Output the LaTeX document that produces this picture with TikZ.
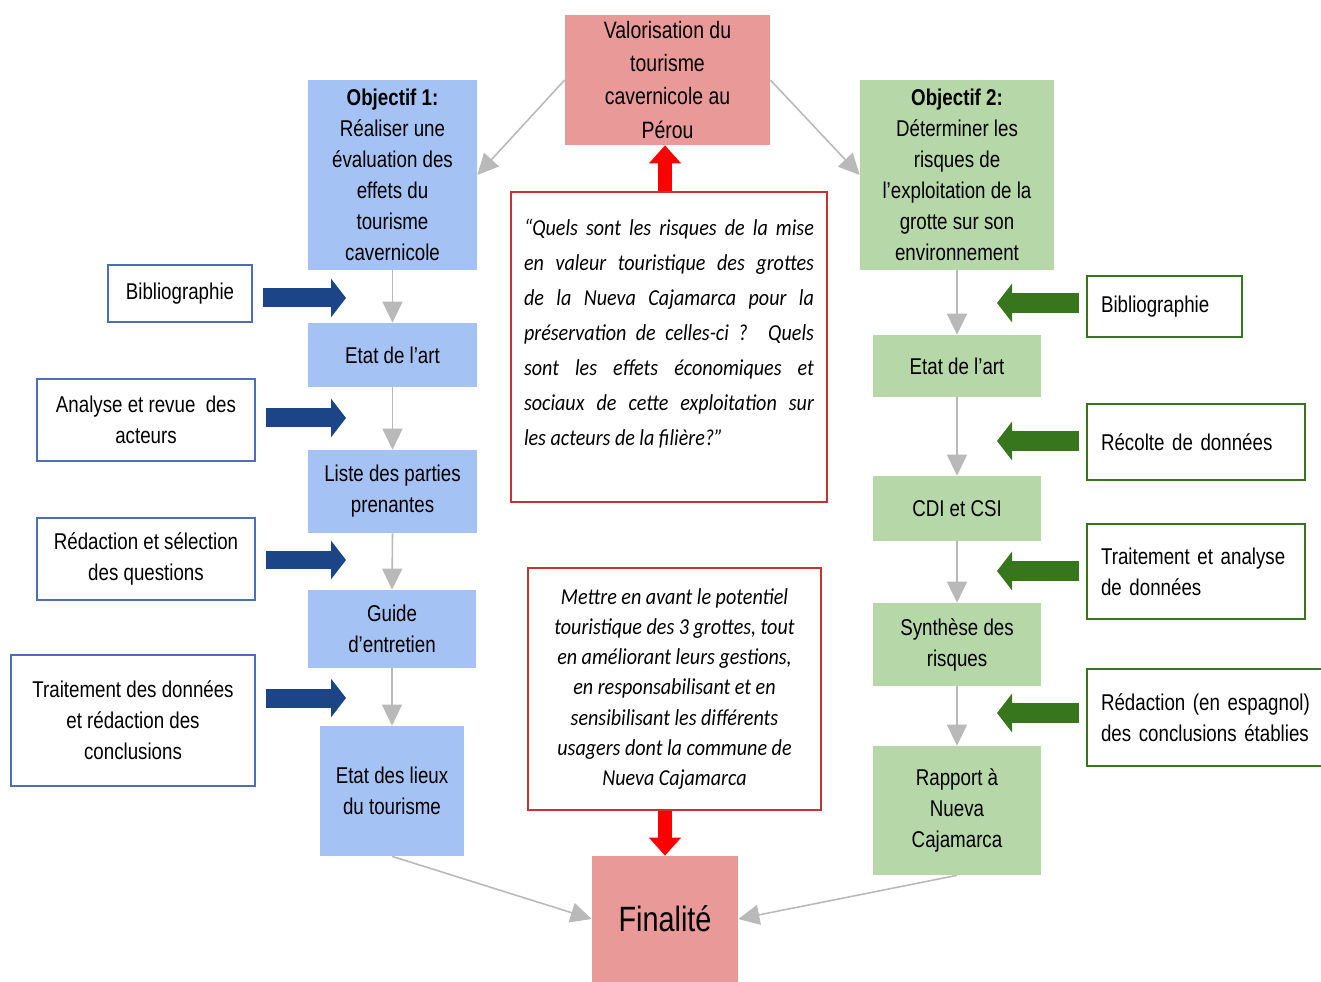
\documentclass[tikz,border=0pt]{standalone}
\usepackage{fontspec}
\setmainfont{Liberation Sans}[FakeStretch=0.82]
\newfontfamily\quotefont{Carlito}[FakeStretch=0.88]
\usepackage{tikz}
\usetikzlibrary{arrows.meta}
\usepackage{xcolor}
\definecolor{pinkbox}{RGB}{234,153,153}
\definecolor{bluebox}{RGB}{164,194,244}
\definecolor{greenbox}{RGB}{182,215,168}
\definecolor{darkblue}{RGB}{28,69,135}
\definecolor{darkgreen}{RGB}{56,118,29}
\definecolor{greyline}{RGB}{185,185,185}
\definecolor{blueedge}{RGB}{74,111,181}
\definecolor{greenedge}{RGB}{56,118,29}
\definecolor{rededge}{RGB}{200,50,50}

\begin{document}
\begin{tikzpicture}[x=0.02cm,y=-0.02cm]
\tikzstyle{every node}=[font=\fontsize{13}{17.6}\selectfont, inner sep=0pt]

\tikzstyle{bluestep}=[fill=bluebox, align=center]
\tikzstyle{greenstep}=[fill=greenbox, align=center]
\tikzstyle{pinkstep}=[fill=pinkbox, align=center]
\tikzstyle{blueinput}=[draw=blueedge, line width=0.7pt, fill=white, align=center]
\tikzstyle{greeninput}=[draw=greenedge, line width=0.7pt, fill=white, align=left, inner xsep=0.28cm]
\tikzstyle{redtext}=[draw=rededge, line width=0.8pt, fill=white]
\tikzstyle{greyarrow}=[draw=greyline, line width=0.9pt, -{Triangle[length=0.42cm,width=0.4cm]}]
\tikzstyle{bluepush}=[draw=darkblue, line width=0.38cm, -{Triangle[length=0.3cm,width=0.76cm]}, shorten <=0.2cm]
\tikzstyle{greenpush}=[draw=darkgreen, line width=0.4cm, -{Triangle[length=0.3cm,width=0.76cm]}, shorten <=0.14cm]
\tikzstyle{redpush}=[draw=red, line width=0.28cm, -{Triangle[length=0.36cm,width=0.62cm]}]

\useasboundingbox (0,0) rectangle (1321,982);

% centre
\node [pinkstep, minimum width=4.1cm, minimum height=2.6cm, font=\fontsize{13.5}{18.8}\selectfont] (valo) at (667.5,80) {Valorisation du\\tourisme\\cavernicole au\\Pérou};
\node [redtext, inner xsep=0.26cm, inner ysep=0.54cm] (quest) at (669,347) {\begin{minipage}[t][5.12cm][t]{5.8cm}\quotefont\itshape\fontsize{13}{19.9}\selectfont
“Quels sont les risques de la mise\linebreak en valeur touristique des grottes\linebreak de la Nueva Cajamarca pour la\linebreak préservation de celles-ci ? Quels\linebreak sont les effets économiques et\linebreak sociaux de cette exploitation sur\linebreak les acteurs de la filière?”\end{minipage}};
\node [redtext, minimum width=5.86cm, minimum height=4.84cm, align=center, font=\quotefont\itshape\fontsize{13}{17.2}\selectfont] (mettre) at (674.5,689) {\rule{0pt}{0.3cm}Mettre en avant le potentiel\\touristique des 3 grottes, tout\\en améliorant leurs gestions,\\en responsabilisant et en\\sensibilisant les différents\\usagers dont la commune de\\Nueva Cajamarca};
\node [pinkstep, minimum width=2.92cm, minimum height=2.52cm, font=\fontsize{20}{24}\selectfont] (finalite) at (665,919) {Finalité};

% objectif 1
\begin{scope}
    \node [bluestep, minimum width=3.38cm, minimum height=3.8cm] (obj1) at (392.5,175) {\textbf{Objectif 1:}\\Réaliser une\\évaluation des\\effets du\\tourisme\\cavernicole};
    \node [bluestep, minimum width=3.38cm, minimum height=1.28cm] (etat1) at (392.5,355) {Etat de l'art};
    \node [bluestep, minimum width=3.38cm, minimum height=1.66cm] (liste) at (392.5,491.5) {Liste des parties\\prenantes};
    \node [bluestep, minimum width=3.36cm, minimum height=1.56cm] (guide) at (392,629) {Guide\\d'entretien};
    \node [bluestep, minimum width=2.88cm, minimum height=2.6cm] (lieux) at (392,791) {Etat des lieux\\du tourisme};

    \node [blueinput, minimum width=2.88cm, minimum height=1.14cm] (bib1) at (180,293.5) {Bibliographie};
    \node [blueinput, minimum width=4.36cm, minimum height=1.64cm] (analyse) at (146,420) {Analyse et revue\ \ des\\acteurs};
    \node [blueinput, minimum width=4.36cm, minimum height=1.64cm] (redac1) at (146,559) {Rédaction et sélection\\des questions};
    \node [blueinput, minimum width=4.88cm, minimum height=2.62cm] (trait1) at (133,720.5) {Traitement des données\\et rédaction des\\conclusions};
\end{scope}

% objectif 2
\begin{scope}
    \node [greenstep, minimum width=3.88cm, minimum height=3.8cm] (obj2) at (957,175) {\textbf{Objectif 2:}\\Déterminer les\\risques de\\l'exploitation de la\\grotte sur son\\environnement};
    \node [greenstep, minimum width=3.36cm, minimum height=1.24cm] (etat2) at (957,366) {Etat de l'art};
    \node [greenstep, minimum width=3.36cm, minimum height=1.3cm] (cdi) at (957,508.5) {CDI et CSI};
    \node [greenstep, minimum width=3.36cm, minimum height=1.66cm] (synth) at (957,644.5) {Synthèse des\\risques};
    \node [greenstep, minimum width=3.36cm, minimum height=2.58cm] (rapport) at (957,810.5) {Rapport à\\Nueva\\Cajamarca};

    \node [greeninput, text width=2.54cm, minimum height=1.22cm] (bib2) at (1164.5,306.5) {Bibliographie};
    \node [greeninput, text width=3.8cm, minimum height=1.52cm] (recolte) at (1196,442) {Récolte de données};
    \node [greeninput, text width=3.8cm, minimum height=1.9cm] (trait2) at (1196,571.5) {Traitement et analyse\\de données};
    \node [greeninput, text width=4.5cm, minimum height=1.94cm] (redac2) at (1213.5,717.5) {Rédaction (en espagnol)\\des conclusions établies};
\end{scope}

\coordinate (b1) at (346,298);
\coordinate (b2) at (346,418);
\coordinate (b3) at (346,560);
\coordinate (b4) at (346,698);
\coordinate (g1) at (997,303);
\coordinate (g2) at (997,441);
\coordinate (g3) at (997,571);
\coordinate (g4) at (997,713);

\draw[greyarrow] (valo.west) -- (obj1.east);
\draw[greyarrow] (valo.east) -- (obj2.west);
\draw[greyarrow] (obj1.south) -- (etat1.north);
\draw[greyarrow] (etat1.south) -- (liste.north);
\draw[greyarrow] (liste.south) -- (guide.north);
\draw[greyarrow] (guide.south) -- (lieux.north);
\draw[greyarrow] (obj2.south) -- (etat2.north);
\draw[greyarrow] (etat2.south) -- (cdi.north);
\draw[greyarrow] (cdi.south) -- (synth.north);
\draw[greyarrow] (synth.south) -- (rapport.north);
\draw[greyarrow] (lieux.south) -- (finalite.west);
\draw[greyarrow] (rapport.south) -- (finalite.east);

\draw[bluepush] (bib1.east |- b1) -- (b1);
\draw[bluepush] (analyse.east |- b2) -- (b2);
\draw[bluepush] (redac1.east |- b3) -- (b3);
\draw[bluepush] (trait1.east |- b4) -- (b4);
\draw[greenpush] (bib2.west |- g1) -- (g1);
\draw[greenpush] (recolte.west |- g2) -- (g2);
\draw[greenpush] (trait2.west |- g3) -- (g3);
\draw[greenpush] (redac2.west |- g4) -- (g4);

\draw[redpush] (quest.north -| finalite) -- (valo.south -| finalite);
\draw[redpush] (mettre.south -| finalite) -- (finalite.north);
\end{tikzpicture}
\end{document}
